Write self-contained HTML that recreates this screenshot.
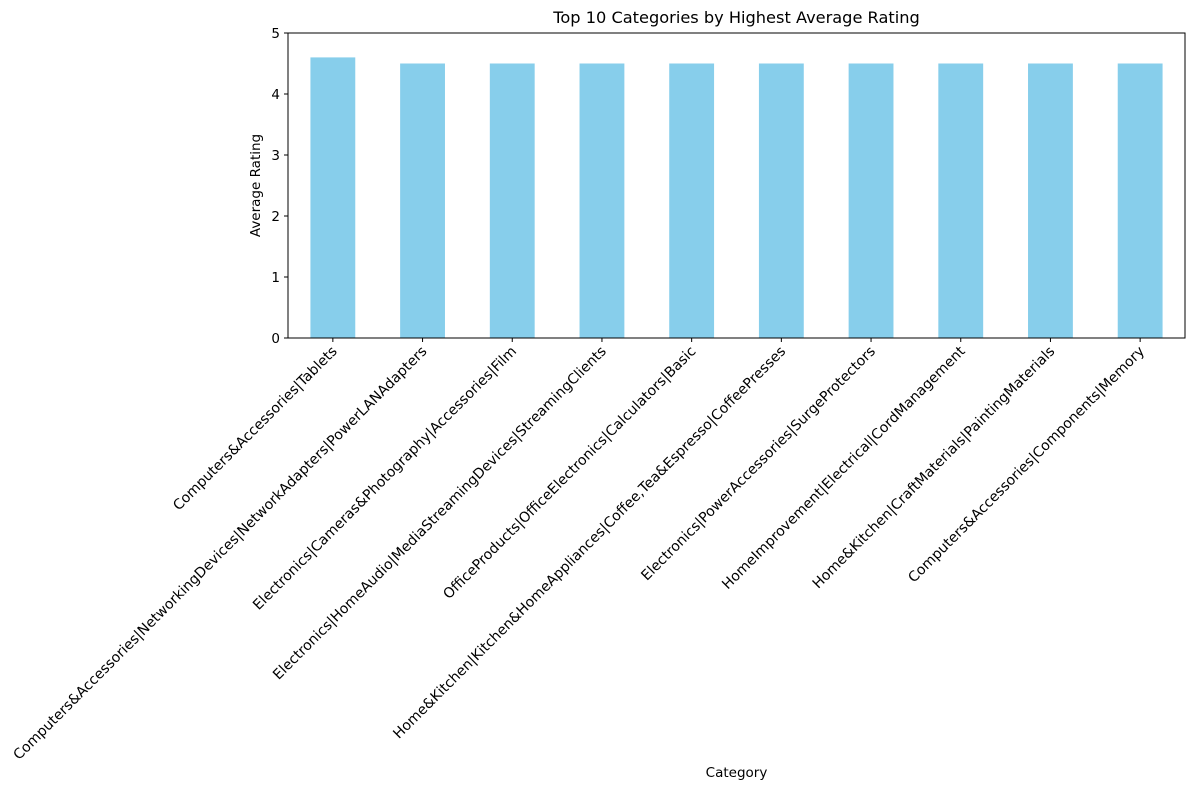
<!DOCTYPE html>
<html><head><meta charset="utf-8"><style>
body{margin:0;background:#fff;}
text{font-family:"DejaVu Sans","Liberation Sans",sans-serif;fill:#000;}
</style></head><body>
<svg id="chart" width="1194" height="790" xmlns="http://www.w3.org/2000/svg">
<text x="736.5" y="23" font-size="16.2" text-anchor="middle">Top 10 Categories by Highest Average Rating</text>
<g id="bars"></g><g id="yticks"></g><g id="xticks"></g>
<rect x="288" y="33" width="897" height="305" fill="none" stroke="#000" stroke-width="1"/>
<text x="0" y="0" font-size="13.5" text-anchor="middle" transform="translate(260,185.5) rotate(-90)">Average Rating</text>
<text x="736.5" y="777" font-size="13.5" text-anchor="middle">Category</text>
</svg>
<script>
const categories=["Computers&Accessories|Tablets","Computers&Accessories|NetworkingDevices|NetworkAdapters|PowerLANAdapters","Electronics|Cameras&Photography|Accessories|Film","Electronics|HomeAudio|MediaStreamingDevices|StreamingClients","OfficeProducts|OfficeElectronics|Calculators|Basic","Home&Kitchen|Kitchen&HomeAppliances|Coffee,Tea&Espresso|CoffeePresses","Electronics|PowerAccessories|SurgeProtectors","HomeImprovement|Electrical|CordManagement","Home&Kitchen|CraftMaterials|PaintingMaterials","Computers&Accessories|Components|Memory"];
const ratings=[4.6,4.5,4.5,4.5,4.5,4.5,4.5,4.5,4.5,4.5];
const yTicks=[0,1,2,3,4,5];
const ns="http://www.w3.org/2000/svg";
const L=288,R=1185,T=33,B=338,yMax=5;
const step=(R-L)/categories.length;
const xc=i=>L+(i+0.5)*step;
const y=v=>B-(v/yMax)*(B-T);
function mk(t,a,p){const e=document.createElementNS(ns,t);for(const k in a)e.setAttribute(k,a[k]);document.getElementById(p).appendChild(e);return e;}
ratings.forEach((v,i)=>{
 const r=mk('rect',{x:xc(i)-step*0.25,y:y(v),width:step*0.5,height:B-y(v),fill:'#87ceeb'},'bars');
 
 
});
yTicks.forEach(v=>{
 const l=mk('line',{x1:L-4,x2:L,y1:y(v),y2:y(v),stroke:'#000'},'yticks');
 
 
 const t=mk('text',{x:L-8,y:y(v)+5,'font-size':13.5,'text-anchor':'end'},'yticks');
 t.textContent=v;
 
 
});
categories.forEach((c,i)=>{
 const l=mk('line',{x1:xc(i),x2:xc(i),y1:B,y2:B+4,stroke:'#000'},'xticks');
 
 
 const t=mk('text',{x:0,y:0,'font-size':14.1,'text-anchor':'end',transform:`translate(${xc(i)+5},${B+14}) rotate(-45)`},'xticks');
 t.textContent=c;
 
 
});
</script>
</body></html>
